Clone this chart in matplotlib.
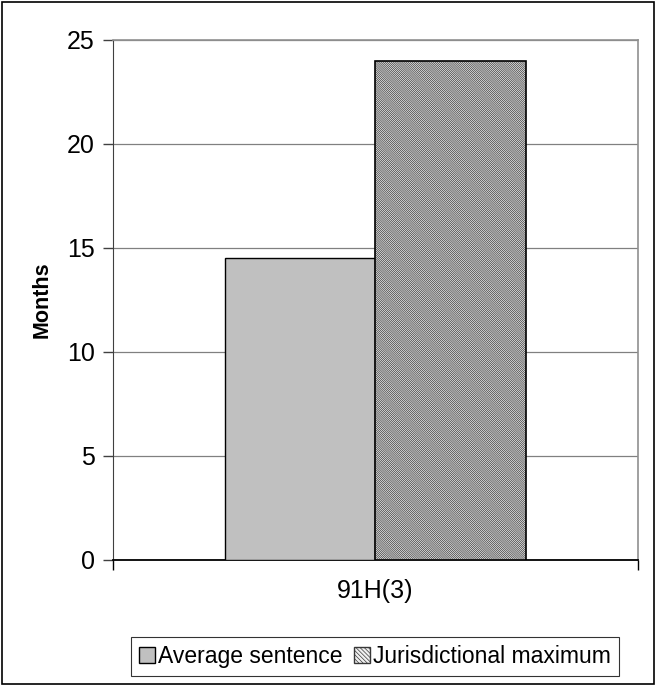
import matplotlib.pyplot as plt
from matplotlib.patches import Rectangle

categories = ['91H(3)']
series = ['Average sentence', 'Jurisdictional maximum']
values = [14.5, 24.0]
yticks = [0, 5, 10, 15, 20, 25]

plt.rcParams['font.family'] = ['Liberation Sans', 'DejaVu Sans']
plt.rcParams['hatch.linewidth'] = 0.5

fig = plt.figure(figsize=(6.56, 6.86), dpi=100)
fig.patches.append(Rectangle((0.003, 0.003), 0.994, 0.994, transform=fig.transFigure,
                             fill=False, edgecolor='black', linewidth=1.2))
ax = fig.add_axes([0.172, 0.1837, 0.8005, 0.758])

w = 0.286
b1 = ax.bar(-w / 2, values[0], width=w, color='#c0c0c0', edgecolor='black', linewidth=1.0,
            label=series[0], zorder=3)
ax.bar(w / 2, values[1], width=w, color='#f0f0f0', edgecolor='#383838', hatch='\\' * 16,
       linewidth=0, zorder=3)
ax.bar(w / 2, values[1], width=w, fill=False, edgecolor='black', linewidth=1.2, zorder=4)
h2 = Rectangle((0, 0), 1, 1, facecolor='#f0f0f0', edgecolor='#383838', hatch='\\' * 8)

ax.set_xlim(-0.5, 0.5)
ax.set_ylim(0, 25)
ax.set_yticks(yticks)
ax.yaxis.grid(True, color='#808080', linewidth=0.9, zorder=0)
ax.set_xticks([0])
ax.set_xticklabels(categories)
ax.set_xticks([-0.5, 0.5], minor=True)
ax.tick_params(axis='x', which='major', length=0, labelsize=18, pad=14)
ax.tick_params(axis='x', which='minor', length=7, direction='out', width=1, color='black')
ax.tick_params(axis='y', length=7, direction='out', labelsize=18, color='#404040', width=1, pad=6)
for s in ['top', 'right']:
    ax.spines[s].set_color('#909090')
    ax.spines[s].set_linewidth(1.2)
ax.spines['left'].set_color('#404040')
ax.spines['bottom'].set_color('black')
ax.spines['bottom'].set_linewidth(1.3)
ax.set_ylabel('Months', fontsize=15.5, fontweight='bold', labelpad=10)

leg = fig.legend([b1, h2], series, loc='center', bbox_to_anchor=(0.5716, 0.043),
                 ncol=2, fontsize=16.5, frameon=True, fancybox=False, edgecolor='black',
                 handlelength=0.7, handleheight=0.7, handletextpad=0.15, columnspacing=0.5,
                 borderpad=0.35, borderaxespad=0)
leg.get_frame().set_linewidth(0.8)

fig.savefig('out.png', dpi=100)
